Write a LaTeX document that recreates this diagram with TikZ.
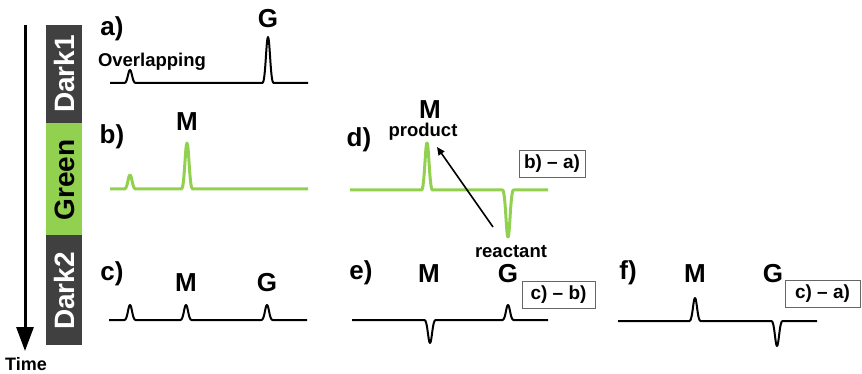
\documentclass[tikz,border=0pt]{standalone}
\usepackage{fontspec}
\setmainfont{Liberation Sans}
\usetikzlibrary{arrows.meta}
\definecolor{lgreen}{HTML}{92D050}
\definecolor{dgray}{HTML}{404040}
\newcommand{\pk}[3]{-- (#1-5.5,#2) .. controls (#1-2.5,#2) and (#1-1.8,#3) .. (#1,#3) .. controls (#1+1.8,#3) and (#1+2.5,#2) .. (#1+5.5,#2)}
\begin{document}
\begin{tikzpicture}[x=1pt,y=-1pt,
  trace/.style={line width=2pt,line join=round},
  gtrace/.style={line width=3pt,line join=round,draw=lgreen},
  plabel/.style={font=\bfseries\fontsize{26}{28}\selectfont,inner sep=0pt},
  pklabel/.style={font=\bfseries\fontsize{26}{28}\selectfont,inner sep=0pt},
  small/.style={font=\bfseries\fontsize{18.5}{20}\selectfont,inner sep=0pt},
  diffbox/.style={draw=black!60,line width=0.8pt,minimum width=66pt,minimum height=27pt,inner sep=0pt,font=\bfseries\fontsize{19}{21}\selectfont},
  barlab/.style={rotate=90,font=\bfseries\fontsize{28}{30}\selectfont,inner sep=0pt}]
\useasboundingbox (0,0) rectangle (862,374);
% time arrow
\coordinate (t0) at (25,25);
\coordinate (t1) at (25,351);
\draw[line width=3pt,-{Triangle[length=24pt,width=17pt]}] (t0) -- (t1);
\node[font=\bfseries\fontsize{18}{20}\selectfont,inner sep=0pt] (time) at (26,364) {Time};
% bar
\fill[dgray] (46,25) rectangle (82,123);
\fill[lgreen] (46,123) rectangle (82,235);
\fill[dgray] (46,235) rectangle (82,345);
\node[barlab,text=white] (dark1) at (64.5,74) {Dark1};
\node[barlab,text=black] (green) at (64.5,180) {Green};
\node[barlab,text=white] (dark2) at (64.5,291) {Dark2};
% panel a
\node[plabel] (la) at (112,29) {a)};
\node[pklabel] (ga) at (268,19) {G};
\node[small] (ov) at (152,62) {Overlapping};
\draw[trace] (110,83) \pk{130}{83}{70} \pk{268}{83}{37} -- (308,83);
% panel b
\node[plabel] (lb) at (112,137) {b)};
\node[pklabel] (mb) at (187,122) {M};
\draw[gtrace] (110,189) \pk{130}{189}{175} \pk{187}{189}{143} -- (308,189);
% panel c
\node[plabel] (lc) at (112,274) {c)};
\node[pklabel] (mc) at (186,283) {M};
\node[pklabel] (gc) at (267,283) {G};
\draw[trace] (109,320) \pk{130}{320}{305} \pk{186}{320}{305} \pk{267}{320}{305} -- (307,320);
% panel d
\node[plabel] (ld) at (359,140) {d)};
\node[pklabel] (md) at (430,110) {M};
\node[small] (prod) at (423,132) {product};
\node[diffbox] (bd) at (552,163.5) {b) -- a)};
\draw[gtrace] (350,190) \pk{427}{190}{143} \pk{508}{190}{237} -- (548,190);
\node[small] (reac) at (511,252) {reactant};
\coordinate (ad0) at (493,227);
\coordinate (ad1) at (437,147);
\draw[line width=1.6pt,-{Triangle[length=8pt,width=7pt]}] (ad0) -- (ad1);
% panel e
\node[plabel] (le) at (361,273) {e)};
\node[pklabel] (me) at (429,274) {M};
\node[pklabel] (ge) at (508,274) {G};
\node[diffbox,minimum width=73pt] (be) at (558.5,294.5) {c) -- b)};
\draw[trace] (352,320) \pk{430}{320}{343} \pk{508}{320}{305} -- (548,320);
% panel f
\node[plabel] (lf) at (628,273) {f)};
\node[pklabel] (mf) at (695,274) {M};
\node[pklabel] (gf) at (773,274) {G};
\node[diffbox,minimum width=75pt] (bf) at (822.5,293.5) {c) -- a)};
\draw[trace] (618,321) \pk{695}{321}{298} \pk{777}{321}{346} -- (817,321);
\end{tikzpicture}
\end{document}
